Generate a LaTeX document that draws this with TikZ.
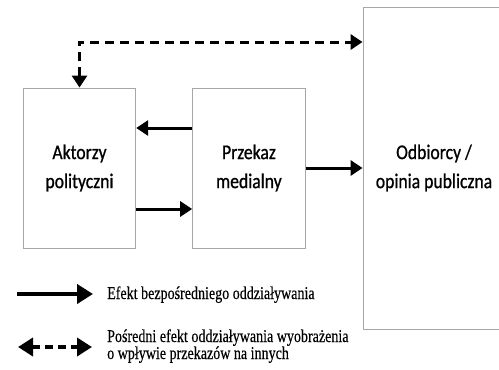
\documentclass[tikz,border=0pt]{standalone}
\usepackage{fontspec}
\newfontfamily\boxfont[FakeStretch=0.84,FakeBold=0.8]{Carlito}
\newfontfamily\legfont[FakeStretch=0.78,FakeBold=0.3]{Liberation Serif}
\usetikzlibrary{positioning,arrows.meta}

\begin{document}
\begin{tikzpicture}[x=1pt,y=-1pt,
      >={Triangle[length=12pt,width=15pt]},
      box/.style={draw=gray!70,line width=0.9pt,minimum width=112.5pt,minimum height=160pt,
                  align=center,inner sep=0pt,font=\boxfont\fontsize{21}{29}\selectfont},
      arrow/.style={->,line width=3pt},
      dasharrow/.style={<->,line width=3pt,dash pattern=on 9pt off 6pt},
      legarrow/.style={-{Triangle[length=16pt,width=19pt]},line width=4pt},
      legdash/.style={{Triangle[length=15pt,width=18pt]}-{Triangle[length=15pt,width=18pt]},
                      line width=4pt,dash pattern=on 8pt off 5pt},
      legtext/.style={anchor=base west,inner sep=0pt,align=left,
                      font=\legfont\fontsize{18}{17}\selectfont}]
    \path[use as bounding box,fill=white] (0,0) rectangle (499,370);
    \node[box] (aktorzy) at (79.5,168) {Aktorzy\\ polityczni};
    \node[box,right=56pt of aktorzy] (przekaz) {Przekaz\\ medialny};
    \node[box,right=57pt of przekaz,minimum width=142pt,minimum height=322pt] (odbiorcy)
      {Odbiorcy /\\ opinia publiczna};
    \draw[arrow] ([yshift=40pt]przekaz.west) -- ([yshift=40pt]aktorzy.east);
    \draw[arrow] ([yshift=-41pt]aktorzy.east) -- ([yshift=-41pt]przekaz.west);
    \draw[arrow] (przekaz.east) -- (przekaz.east -| odbiorcy.west);
    \draw[dasharrow] (aktorzy.north) |- ([yshift=126pt]odbiorcy.west);
    % legenda
    \coordinate (l1s) at (17,294);
    \coordinate (l1e) at (93,294);
    \draw[legarrow] (l1s) -- (l1e);
    \node[legtext] (l1t) at (107,299) {Efekt bezpośredniego oddziaływania};
    \coordinate (l2s) at (18,347);
    \coordinate (l2e) at (92,347);
    \draw[legdash] (l2s) -- (l2e);
    \node[legtext] (l2t) at (107,359) {Pośredni efekt oddziaływania wyobrażenia\\ o wpływie przekazów na innych};
  \end{tikzpicture}
\end{document}
